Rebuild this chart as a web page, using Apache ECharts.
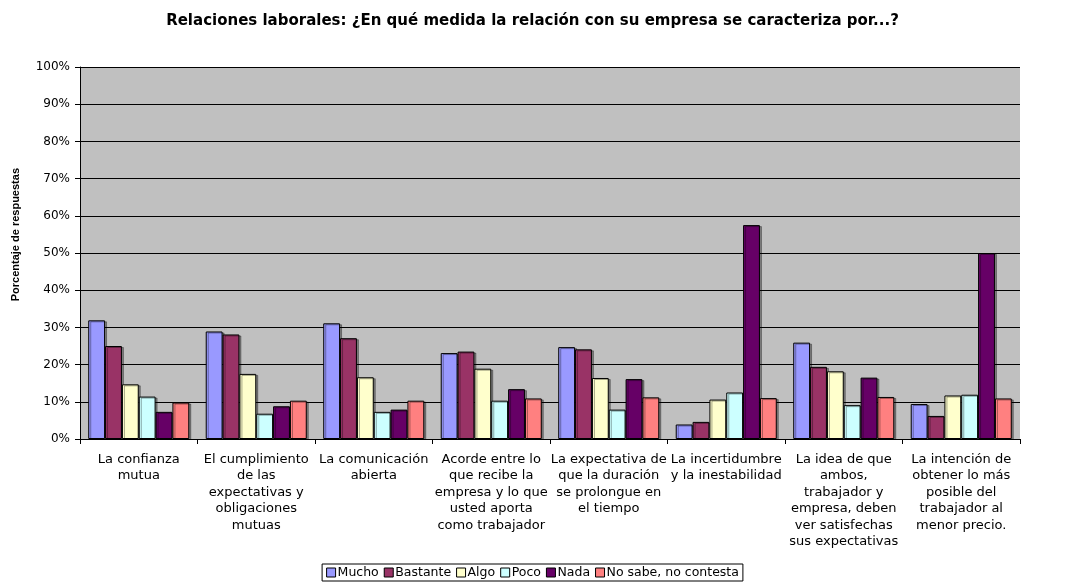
<!DOCTYPE html>
<html>
<head>
<meta charset="utf-8">
<script src="https://cdn.jsdelivr.net/npm/echarts@6/dist/echarts.min.js"></script>
<style>
  html, body { margin: 0; padding: 0; background: #fff; }
  #chart { width: 1065px; height: 582px; }
</style>
</head>
<body>
<div id="chart"></div>
<script>
// categorias (con saltos de linea como en el original)
const categories = [
  'La confianza\nmutua',
  'El cumplimiento\nde las\nexpectativas y\nobligaciones\nmutuas',
  'La comunicación\nabierta',
  'Acorde entre lo\nque recibe la\nempresa y lo que\nusted aporta\ncomo trabajador',
  'La expectativa de\nque la duración\nse prolongue en\nel tiempo',
  'La incertidumbre\ny la inestabilidad',
  'La idea de que\nambos,\ntrabajador y\nempresa, deben\nver satisfechas\nsus expectativas',
  'La intención de\nobtener lo más\nposible del\ntrabajador al\nmenor precio.'
]
const yTicks = [0, 10, 20, 30, 40, 50, 60, 70, 80, 90, 100]

const mucho = [31.9, 28.9, 31.1, 23.1, 24.7, 3.9, 25.9, 9.4]
const bastante = [25.0, 28.1, 27.1, 23.5, 24.1, 4.6, 19.4, 6.2]
const algo = [14.7, 17.5, 16.6, 18.9, 16.4, 10.6, 18.2, 11.7]
const poco = [11.4, 6.8, 7.3, 10.3, 7.9, 12.5, 9.1, 11.9]
const nada = [7.3, 8.8, 7.9, 13.4, 16.1, 57.5, 16.5, 50.0]
const noSabe = [9.8, 10.3, 10.3, 10.9, 11.2, 11.0, 11.3, 10.9]

const seriesNames = ['Mucho', 'Bastante', 'Algo', 'Poco', 'Nada', 'No sabe, no contesta']
const seriesData = [mucho, bastante, algo, poco, nada, noSabe]
const colors = ['#9999ff', '#993366', '#ffffcc', '#ccffff', '#660066', '#ff8080']

const chart = echarts.init(document.getElementById('chart'))

chart.setOption({
  animation: false,
  textStyle: { fontFamily: 'DejaVu Sans, Arial, sans-serif' },
  title: {
    text: 'Relaciones laborales: ¿En qué medida la relación con su empresa se caracteriza por...?',
    left: 'center',
    top: 9,
    textStyle: { fontSize: 15, fontWeight: 'bold', color: '#000', fontFamily: 'DejaVu Sans' }
  },
  legend: {
    data: seriesNames,
    bottom: 1,
    left: 'center',
    padding: [2, 4],
    itemWidth: 9,
    itemHeight: 9,
    itemGap: 5,
    icon: 'rect',
    borderColor: '#000',
    borderWidth: 1,
    textStyle: { fontSize: 12.5, color: '#000', padding: [0, 0, 0, -3], fontFamily: 'DejaVu Sans' },
    itemStyle: { borderColor: '#000', borderWidth: 1 }
  },
  grid: {
    left: 80,
    right: 45,
    top: 67,
    bottom: 143,
    show: true,
    backgroundColor: '#c0c0c0',
    borderWidth: 0
  },
  graphic: [{
    type: 'text',
    left: 10,
    top: 168,
    rotation: Math.PI / 2,
    style: {
      text: 'Porcentaje de respuestas',
      fill: '#000',
      font: 'bold 11px "Liberation Sans", Arial, sans-serif'
    }
  }],
  xAxis: {
    type: 'category',
    data: categories,
    axisLine: { lineStyle: { color: '#000', width: 1 } },
    axisTick: { show: true, length: 5, lineStyle: { color: '#000' } },
    axisLabel: {
      interval: 0,
      fontSize: 13,
      lineHeight: 16.5,
      color: '#000',
      margin: 12,
      fontFamily: 'DejaVu Sans'
    }
  },
  yAxis: {
    type: 'value',
    min: yTicks[0],
    max: yTicks[yTicks.length - 1],
    interval: 10,
    axisLine: { show: true, lineStyle: { color: '#000', width: 1 } },
    axisTick: { show: true, length: 5, lineStyle: { color: '#000' } },
    axisLabel: { formatter: '{value}%', fontSize: 12, color: '#000', margin: 10, fontFamily: 'DejaVu Sans' },
    splitLine: { show: true, lineStyle: { color: '#000', width: 1 } }
  },
  series: seriesNames.map((name, i) => ({
    name: name,
    type: 'bar',
    data: seriesData[i],
    barGap: '0%',
    barCategoryGap: '14%',
    itemStyle: {
      color: colors[i],
      borderColor: '#000',
      borderWidth: 1,
      shadowColor: 'rgba(0,0,0,0.35)',
      shadowOffsetX: 2,
      shadowOffsetY: 1,
      shadowBlur: 0
    }
  }))
})
</script>
</body>
</html>
